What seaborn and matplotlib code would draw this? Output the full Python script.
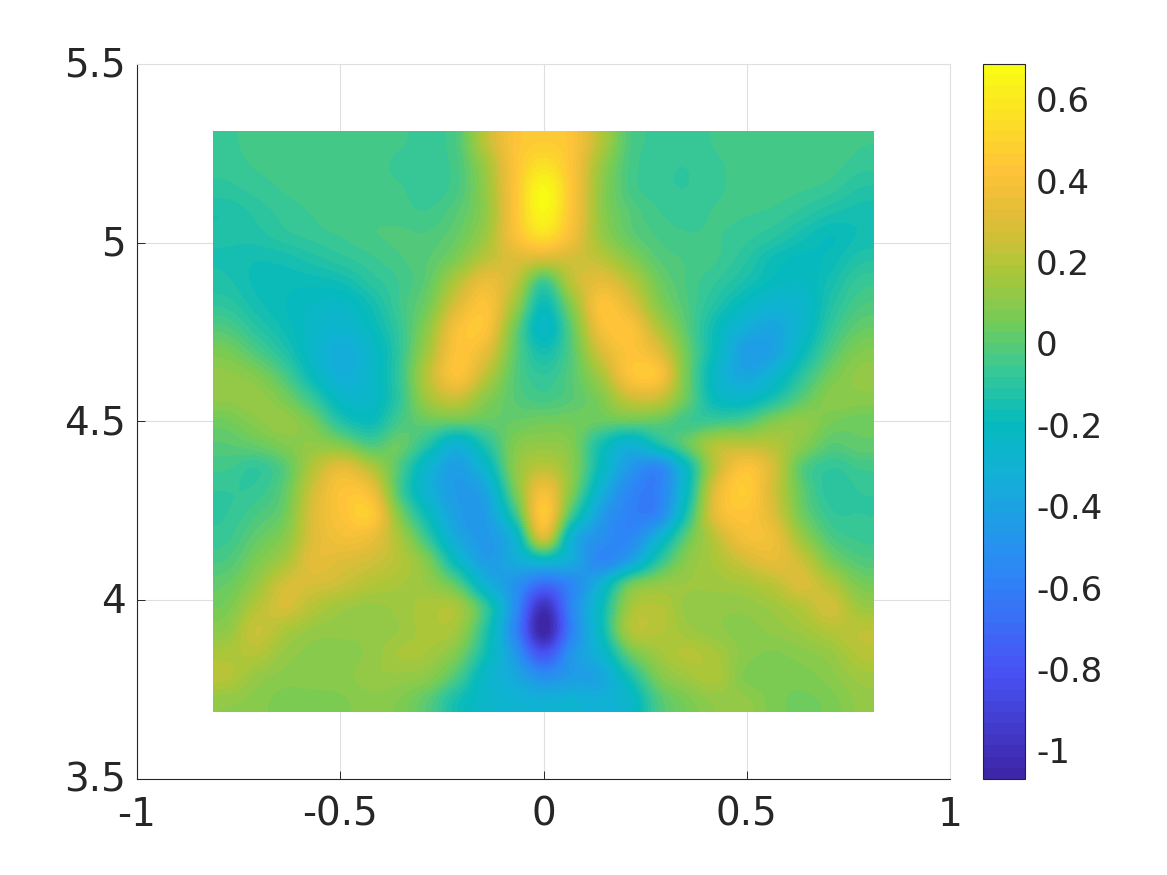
import matplotlib
matplotlib.use("Agg")
import matplotlib.pyplot as plt
import numpy as np
import pandas as pd
import seaborn as sns
from matplotlib.colors import LinearSegmentedColormap
from matplotlib.transforms import ScaledTranslation

# surface values (top row first)
r00 = [-.06,-.04,-.03,-.03,-.03,-.04,-.05,-.06,-.02,.22,.42,.47,.42,.2,-.02,-.06,-.07,-.05,-.03,-.03,-.03,-.03,-.05]
r01 = [-.07,-.05,-.04,-.03,-.03,-.04,-.06,-.07,-.03,.15,.42,.56,.42,.14,-.03,-.07,-.08,-.06,-.04,-.03,-.03,-.04,-.07]
r02 = [-.09,-.07,-.05,-.04,-.03,-.04,-.05,-.07,-.03,.13,.42,.67,.43,.12,-.03,-.07,-.08,-.06,-.04,-.04,-.05,-.07,-.11]
r03 = [-.13,-.1,-.07,-.05,-.03,-.03,-.04,-.05,0,.12,.42,.66,.42,.12,0,-.05,-.07,-.05,-.05,-.06,-.09,-.13,-.15]
r04 = [-.13,-.12,-.09,-.07,-.05,-.03,-.02,-.02,.03,.15,.4,.55,.38,.14,.02,-.03,-.05,-.05,-.07,-.1,-.15,-.19,-.16]
r05 = [-.14,-.16,-.15,-.12,-.09,-.06,-.03,0,.08,.22,.3,.28,.27,.22,.1,0,-.03,-.05,-.1,-.17,-.2,-.18,-.12]
r06 = [-.13,-.17,-.18,-.18,-.16,-.1,-.05,.02,.2,.35,.24,-.05,.22,.33,.22,.05,-.03,-.08,-.14,-.2,-.22,-.15,-.07]
r07 = [-.09,-.15,-.19,-.22,-.24,-.16,-.05,.06,.3,.42,.15,-.18,.1,.42,.32,.1,-.02,-.12,-.22,-.3,-.26,-.12,-.03]
r08 = [-.02,-.1,-.17,-.24,-.28,-.2,-.07,.12,.4,.42,.05,-.24,.02,.38,.42,.2,0,-.18,-.33,-.38,-.26,-.08,.02]
r09 = [.06,-.02,-.12,-.25,-.35,-.25,-.08,.17,.42,.33,.02,-.15,0,.28,.42,.32,.04,-.2,-.42,-.4,-.2,-.02,.08]
r10 = [.12,.08,-.03,-.2,-.33,-.25,-.07,.22,.42,.22,0,-.08,0,.17,.42,.42,.05,-.24,-.38,-.28,-.1,.05,.12]
r11 = [.12,.13,.06,-.08,-.24,-.24,-.08,.16,.25,.1,0,-.04,0,.08,.25,.25,.03,-.2,-.24,-.14,0,.1,.1]
r12 = [.05,.1,.13,.05,-.12,-.18,-.04,.03,.03,.02,.03,.05,.05,.03,.03,.02,-.05,-.05,-.02,.08,.12,.06,.04]
r13 = [0,.03,.08,.12,.08,-.02,.03,-.12,-.3,-.12,.08,.12,.08,-.15,-.3,-.15,.02,.2,.22,.2,.1,0,.02]
r14 = [-.05,-.08,0,.2,.33,.2,-.02,-.28,-.42,-.25,.1,.22,.1,-.2,-.45,-.55,-.2,.22,.42,.28,0,-.08,-.05]
r15 = [-.08,-.07,.02,.27,.42,.37,-.03,-.3,-.44,-.38,.05,.38,.08,-.3,-.55,-.58,-.2,.32,.47,.27,.02,-.1,-.08]
r16 = [-.08,-.03,.05,.3,.42,.46,.08,-.2,-.42,-.43,-.08,.45,-.05,-.42,-.58,-.55,-.12,.33,.43,.3,.05,-.07,-.08]
r17 = [-.06,.02,.1,.3,.38,.35,.17,-.08,-.36,-.45,-.28,.28,-.3,-.5,-.55,-.3,.02,.22,.38,.36,.14,-.02,-.06]
r18 = [-.02,.07,.17,.32,.3,.27,.2,.07,-.22,-.43,-.35,-.25,-.35,-.55,-.4,-.1,.1,.18,.27,.33,.25,.07,-.01]
r19 = [.03,.13,.27,.28,.25,.2,.17,.13,0,-.3,-.48,-.68,-.55,-.3,.03,.12,.14,.15,.17,.22,.29,.2,.07]
r20 = [.07,.2,.28,.2,.15,.13,.15,.18,.17,-.08,-.5,-1.0,-.55,-.2,.15,.2,.13,.12,.12,.15,.2,.27,.15]
r21 = [.12,.25,.18,.13,.12,.12,.14,.18,.15,-.12,-.55,-1.07,-.58,-.2,.18,.2,.15,.12,.1,.12,.15,.2,.22]
r22 = [.18,.2,.13,.1,.1,.12,.17,.16,.07,-.17,-.45,-.8,-.47,-.28,.02,.15,.2,.17,.1,.08,.1,.13,.2]
r23 = [.2,.13,.1,.1,.1,.13,.13,.1,-.03,-.25,-.36,-.5,-.43,-.38,-.15,.07,.15,.18,.08,.07,.07,.1,.15]
r24 = [.12,.1,.07,.07,.08,.1,.08,0,-.15,-.25,-.3,-.32,-.3,-.32,-.25,-.02,.07,.12,.12,.07,.05,.07,.12]
rows = [r00, r01, r02, r03, r04, r05, r06, r07, r08, r09, r10, r11, r12,
        r13, r14, r15, r16, r17, r18, r19, r20, r21, r22, r23, r24]

x_ticks = [-1, -0.5, 0, 0.5, 1]
x_labels = ["-1", "-0.5", "0", "0.5", "1"]
y_ticks = [3.5, 4, 4.5, 5, 5.5]
y_labels = ["3.5", "4", "4.5", "5", "5.5"]
cbar_ticks = [-1, -0.8, -0.6, -0.4, -0.2, 0, 0.2, 0.4, 0.6]
cbar_labels = ["-1", "-0.8", "-0.6", "-0.4", "-0.2", "0", "0.2", "0.4", "0.6"]
parula_colors = [(0, (0.2422, 0.1504, 0.6603)), (1 / 7, (0.2810, 0.3228, 0.9579)),
                 (2 / 7, (0.1786, 0.5289, 0.9682)), (3 / 7, (0.0689, 0.6948, 0.8394)),
                 (0.5, (0.02, 0.73, 0.74)), (4 / 7, (0.2161, 0.7843, 0.5923)),
                 (0.643, (0.46, 0.80, 0.34)), (5 / 7, (0.6720, 0.7793, 0.2227)),
                 (0.786, (0.88, 0.74, 0.22)), (6 / 7, (0.9970, 0.7659, 0.2199)),
                 (1, (0.9769, 0.9839, 0.0805))]

X_MIN, X_MAX = -0.813, 0.813
Y_MIN, Y_MAX = 3.688, 5.313
V_MIN, V_MAX = -1.069, 0.688
TEXT = "#262626"
GRID = "#dfdfdf"
FS_AX = 28
FS_CBAR = 24.5

sns.set_theme(style="white")
parula = LinearSegmentedColormap.from_list("parula", parula_colors, N=64)
df = pd.DataFrame(rows)
n_rows, n_cols = df.shape


def to_col(x):
    return (x - X_MIN) / (X_MAX - X_MIN) * n_cols


def to_row(y):
    return (Y_MAX - y) / (Y_MAX - Y_MIN) * n_rows


fig = plt.figure(figsize=(11.67, 8.75), dpi=100)
ax = fig.add_axes([137 / 1167, 1 - 779 / 875, 813 / 1167, 715 / 875])
cax = fig.add_axes([983 / 1167, 1 - 779 / 875, 42 / 1167, 715 / 875])

sns.heatmap(df, ax=ax, cbar_ax=cax, cmap=parula, vmin=V_MIN, vmax=V_MAX)

# smooth shading on top of the heatmap cells, catrom goes through the values
ax.imshow(df.values, extent=(0, n_cols, n_rows, 0), cmap=parula, vmin=V_MIN,
          vmax=V_MAX, aspect="auto", interpolation="catrom", zorder=1.5)

ax.set_xlim(to_col(-1), to_col(1))
ax.set_ylim(to_row(3.5), to_row(5.5))
ax.set_xticks([to_col(v) for v in x_ticks])
ax.set_xticklabels(x_labels, rotation=0)
ax.set_yticks([to_row(v) for v in y_ticks])
ax.set_yticklabels(y_labels, rotation=0, va="center_baseline")
ax.set_xlabel("")
ax.set_ylabel("")
ax.grid(True, color=GRID, linewidth=0.8)
ax.set_axisbelow(True)
ax.tick_params(axis="both", direction="in", length=6, width=0.7, color=TEXT,
               labelcolor=TEXT, labelsize=FS_AX, bottom=True, left=True)
ax.tick_params(axis="x", pad=12)
ax.tick_params(axis="y", pad=8)

for name, spine in ax.spines.items():
    spine.set_visible(True)
    spine.set_linewidth(0.8)
    spine.set_color(TEXT if name in ("left", "bottom") else GRID)

cbar = ax.collections[0].colorbar
cbar.set_ticks(cbar_ticks)
cbar.set_ticklabels(cbar_labels)
cax.tick_params(axis="y", direction="in", right=True, length=6, width=0.7,
                color=TEXT, labelcolor=TEXT, labelsize=FS_CBAR, pad=8)
# nudge the labels so they sit level with the ticks
for label in cax.get_yticklabels():
    label.set_va("center")
    label.set_transform(label.get_transform() + ScaledTranslation(0, -3 / 100, fig.dpi_scale_trans))
for label in ax.get_yticklabels():
    label.set_transform(label.get_transform() + ScaledTranslation(0, 2 / 100, fig.dpi_scale_trans))
cbar.outline.set_visible(True)
cbar.outline.set_edgecolor(TEXT)
cbar.outline.set_linewidth(0.8)

fig.savefig("out.png", dpi=100)
